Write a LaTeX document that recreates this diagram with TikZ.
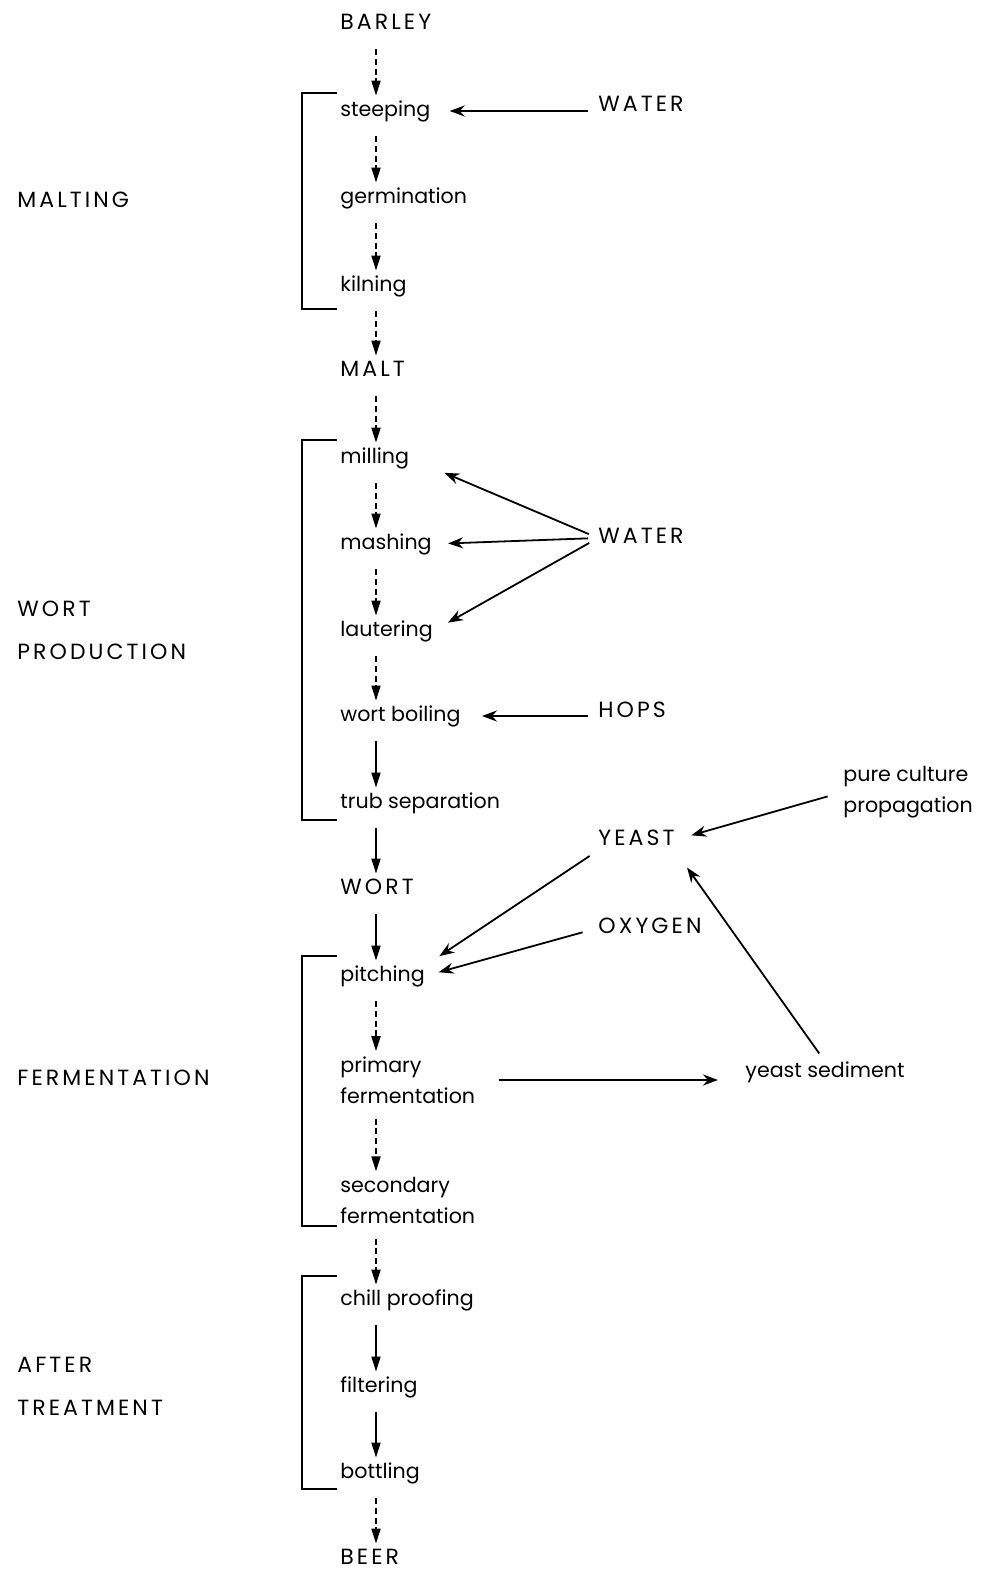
\documentclass[tikz,border=0pt]{standalone}
\usepackage{fontspec}
\setmainfont{Poppins}
\newfontfamily\capsfont[LetterSpace=14]{Poppins}
\usetikzlibrary{arrows.meta}

\tikzset{
  stage/.style={anchor=west, inner sep=0pt, align=left, text height=7.5pt, text depth=2.5pt,
    yshift=-1.5pt, font=\fontsize{10.3}{15.5}\selectfont},
  stack/.style={anchor=west, inner sep=0pt, align=left, yshift=-2pt,
    font=\fontsize{10.3}{15.5}\selectfont},
  caps/.style={font=\capsfont\fontsize{11}{21.5}\selectfont},
  phase/.style={anchor=west, inner sep=0pt, align=left, caps},
  flow/.style={-{Triangle[length=7.5pt,width=4.5pt]}, line width=0.9pt,
    shorten <=7.5pt, shorten >=2.5pt},
  broken/.style={flow, dash pattern=on 3pt off 1.8pt},
  feed/.style={-{Stealth[length=7.5pt,width=5.5pt]}, line width=0.9pt, shorten <=5pt},
  bracket/.style={line width=1.4pt}
}

\begin{document}
\begin{tikzpicture}[x=0.5pt, y=-0.5pt]
    \useasboundingbox (0,0) rectangle (994,1574);
    \coordinate (col) at (376,0);

    % Main line
    \node[stage, caps] (barley) at (340,21) {BARLEY};
    \node[stage] (steeping) at (340,108) {steeping};
    \node[stage] (germination) at (340,195) {germination};
    \node[stage] (kilning) at (340,283) {kilning};
    \node[stage, caps] (malt) at (340,368) {MALT};
    \node[stage] (milling) at (340,455) {milling};
    \node[stage] (mashing) at (340,541) {mashing};
    \node[stage] (lautering) at (340,628) {lautering};
    \node[stage] (boiling) at (340,713) {wort boiling};
    \node[stage] (trub) at (340,800) {trub separation};
    \node[stage, caps] (wort) at (340,886) {WORT};
    \node[stage] (pitching) at (340,973) {pitching};
    \node[stack] (primary) at (340,1076) {primary\\fermentation};
    \node[stack] (secondary) at (340,1196) {secondary\\fermentation};
    \node[stage] (chill) at (340,1297) {chill proofing};
    \node[stage] (filtering) at (340,1384) {filtering};
    \node[stage] (bottling) at (340,1470) {bottling};
    \node[stage, caps] (beer) at (340,1556) {BEER};

    % Inputs
    \node[stage, caps] (water1) at (598,103) {WATER};
    \node[stage, caps] (water2) at (598,535) {WATER};
    \node[stage, caps] (hops) at (598,709) {HOPS};
    \node[stack] (culture) at (843,788) {pure culture\\propagation};
    \node[stage, caps] (yeast) at (598,837) {YEAST};
    \node[stage, caps] (oxygen) at (598,925) {OXYGEN};
    \node[stage] (sediment) at (745,1069) {yeast sediment};

    % Phases
    \node[phase] (malting) at (17,200) {MALTING};
    \node[phase] (production) at (17,630) {WORT\\PRODUCTION};
    \node[phase] (fermentation) at (17,1078) {FERMENTATION};
    \node[phase] (after) at (17,1386) {AFTER\\TREATMENT};

    % Brackets
    \draw[bracket] (337,93) -| (302,309) -- (337,309);
    \draw[bracket] (337,440) -| (302,820) -- (337,820);
    \draw[bracket] (337,956) -| (302,1226) -- (337,1226);
    \draw[bracket] (337,1276) -| (302,1489) -- (337,1489);

    % Vertical arrows
    \draw[broken] (barley.south -| col) -- (steeping.north -| col);
    \draw[broken] (steeping.south -| col) -- (germination.north -| col);
    \draw[broken] (germination.south -| col) -- (kilning.north -| col);
    \draw[broken] (kilning.south -| col) -- (malt.north -| col);
    \draw[broken] (malt.south -| col) -- (milling.north -| col);
    \draw[broken] (milling.south -| col) -- (mashing.north -| col);
    \draw[broken] (mashing.south -| col) -- (lautering.north -| col);
    \draw[broken] (lautering.south -| col) -- (boiling.north -| col);
    \draw[flow] (boiling.south -| col) -- (trub.north -| col);
    \draw[flow] (trub.south -| col) -- (wort.north -| col);
    \draw[flow] (wort.south -| col) -- (pitching.north -| col);
    \draw[broken] (pitching.south -| col) -- (primary.north -| col);
    \draw[broken] (primary.south -| col) -- (secondary.north -| col);
    \draw[broken] (secondary.south -| col) -- (chill.north -| col);
    \draw[flow] (chill.south -| col) -- (filtering.north -| col);
    \draw[flow] (filtering.south -| col) -- (bottling.north -| col);
    \draw[broken] (bottling.south -| col) -- (beer.north -| col);

    % Side arrows
    \draw[feed, shorten >=9.5pt] (steeping.east -| water1.west) -- (steeping.east);
    \draw[feed, shorten >=19pt] (water2.west) -- (milling.east);
    \draw[feed, shorten >=8pt] (water2.west) -- (mashing.east);
    \draw[feed, shorten >=8.5pt] (water2.west) -- (lautering.east);
    \draw[feed, shorten >=10.5pt] (boiling.east -| hops.west) -- (boiling.east);
    \draw[feed, shorten <=8pt, shorten >=8.5pt] (culture.west) -- (yeast.east);
    \draw[feed, shorten >=10.5pt] (sediment.north) -- (yeast.south east);
    \draw[feed, shorten >=8.5pt] (yeast.south west) -- (pitching.north east);
    \draw[feed, shorten <=8pt, shorten >=7pt] (oxygen.west) -- (pitching.east);
    \draw[feed, shorten <=11.5pt, shorten >=13.5pt] (primary.east) -- (primary.east -| sediment.west);
\end{tikzpicture}
\end{document}
